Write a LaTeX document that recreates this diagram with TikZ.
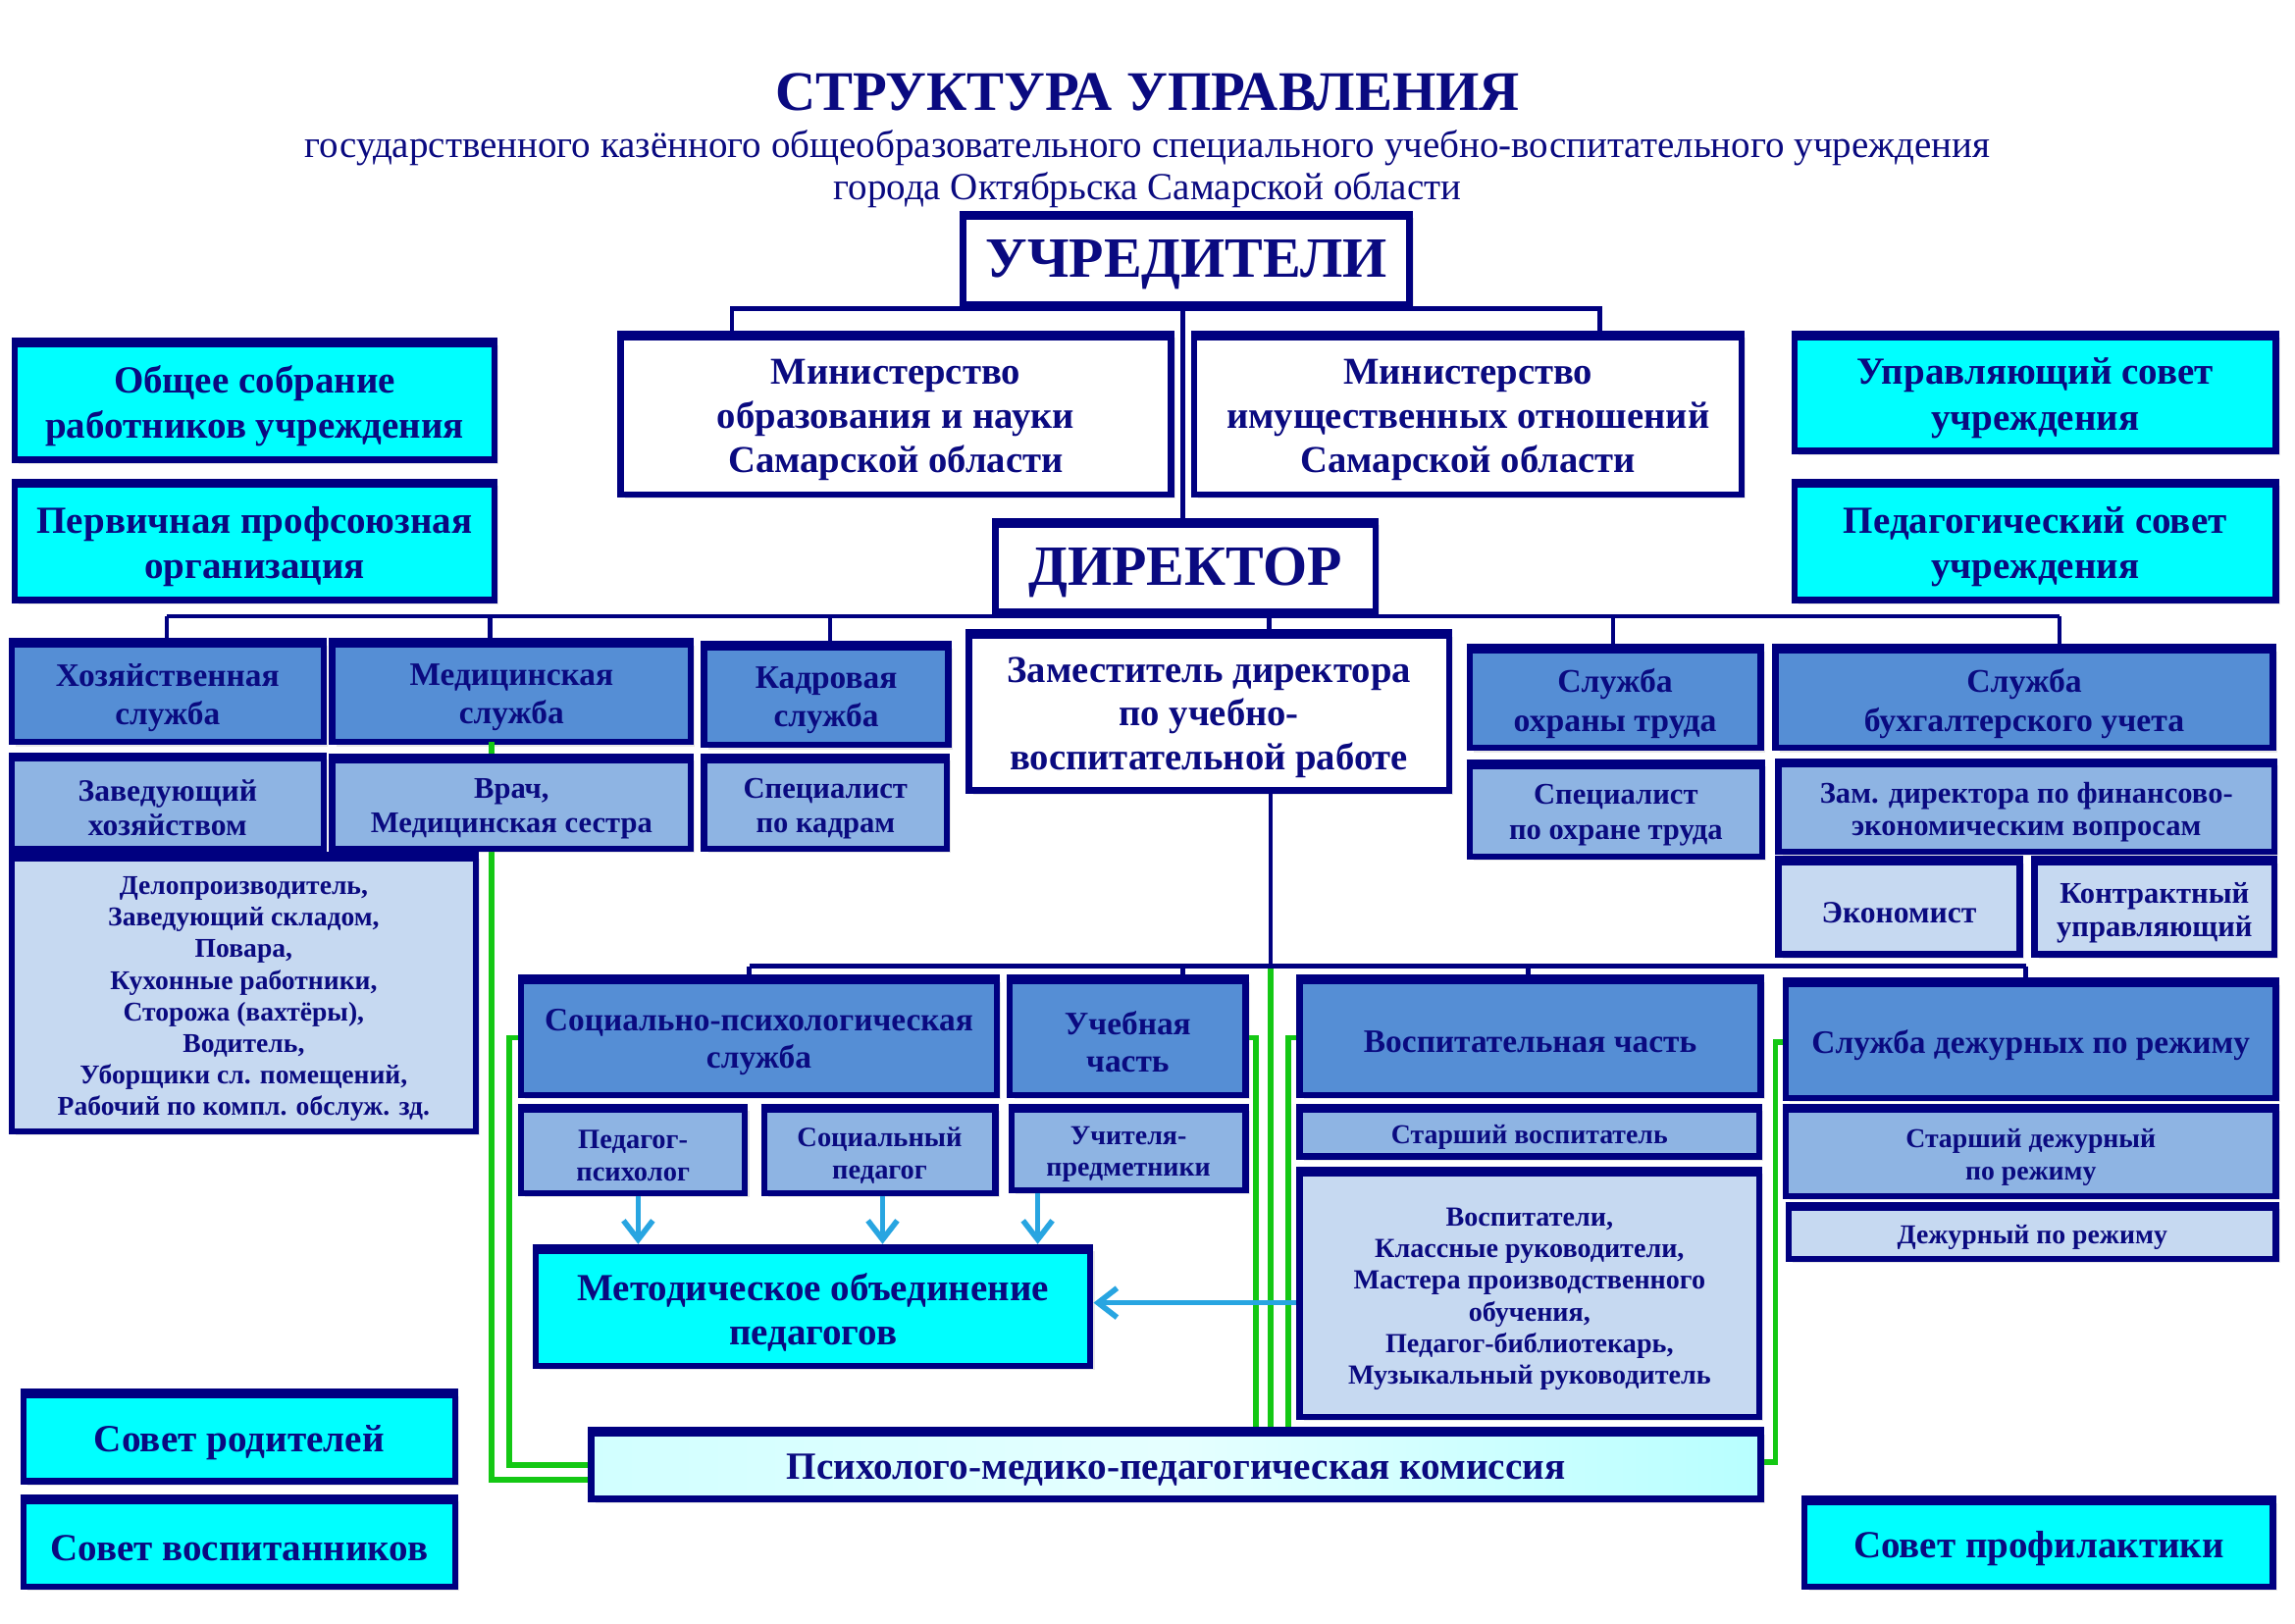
\documentclass[tikz,border=0pt]{standalone}
\usepackage{fontspec}
\setmainfont{Liberation Serif}
\usetikzlibrary{arrows.meta,shadows}
\definecolor{navyT}{RGB}{10,10,128}
\definecolor{navyB}{RGB}{0,0,128}
\definecolor{cyanF}{RGB}{0,255,255}
\definecolor{midB}{RGB}{85,142,213}
\definecolor{lightB}{RGB}{142,180,227}
\definecolor{paleB}{RGB}{198,217,241}
\definecolor{greenL}{RGB}{20,200,20}
\definecolor{arrowB}{RGB}{40,165,225}
\newcommand\fz[2]{\bfseries\fontsize{#1}{#2}\selectfont}
% \bx{style}{font}{x1}{y1}{x2}{y2}{name}{text}
\newcommand\bx[8]{%
  \node[#1, minimum width={(#5-#3)*0.14917mm}, minimum height={(#6-#4)*0.14917mm}] (#7) at ({(#3+#5)/2},{(#4+#6)/2}) {};
  \node[lbl, font=#2] (#7t) at ([yshift=-1.7pt]#7.center) {#8};}
\begin{document}
\begin{tikzpicture}[x=0.14917mm,y=-0.14917mm,
  box/.style={draw=navyB, line width=1.8pt, inner sep=0pt,
    drop shadow={opacity=0.18, shadow xshift=1.2pt, shadow yshift=-1.2pt},
    append after command={([yshift=-1.4pt]\tikzlastnode.north west) edge[draw=navyB, line width=2.8pt, -] ([yshift=-1.4pt]\tikzlastnode.north east)}},
  lbl/.style={inner sep=0pt, align=center, text=navyT},
  cy/.style={box, fill=cyanF},
  mb/.style={box, fill=midB},
  lb/.style={box, fill=lightB},
  pb/.style={box, fill=paleB},
  wb/.style={box, fill=white},
  conn/.style={draw=navyB, line width=1.3pt},
  grn/.style={draw=greenL, line width=1.6pt},
  arr/.style={draw=arrowB, line width=1.6pt, -{Straight Barb[length=5.5pt,width=8.5pt]}},
  ttl/.style={text=navyT, inner sep=0pt}]
\useasboundingbox (0,0) rectangle (1568,1109);
\fill[white] (0,0) rectangle (1568,1109);

% titles
\node[ttl, font=\fz{16.2}{18}] (title) at (784,63) {СТРУКТУРА УПРАВЛЕНИЯ};
\node[ttl, font=\fontsize{11.1}{13}\selectfont] (sub1) at (784,101) {государственного казённого общеобразовательного специального учебно-воспитательного учреждения};
\node[ttl, font=\fontsize{11.1}{13}\selectfont] (sub2) at (784,130) {города Октябрьска Самарской области};

% coordinates for connectors
\coordinate (t1) at (500,211);
\coordinate (t2) at (1093,211);
\coordinate (b1) at (114,421);
\coordinate (b2) at (335,421);
\coordinate (b3) at (567,421);
\coordinate (b4) at (867,421);
\coordinate (b5) at (1102,421);
\coordinate (b6) at (1407,421);
\coordinate (c0) at (868,660);
\coordinate (c1) at (512,660);
\coordinate (c2) at (808,660);
\coordinate (c3) at (1044,660);
\coordinate (c4) at (1384,660);

\coordinate (g1a) at (336,507);
\coordinate (g1b) at (336,1011);
\coordinate (g2a) at (348,709);
\coordinate (g2b) at (348,1001);
\coordinate (g3a) at (858,709);
\coordinate (g5a) at (880,709);
\coordinate (g6a) at (1213,712);
\coordinate (g6b) at (1213,999);

% boxes
\bx{wb}{\fz{16.5}{18}}{658}{146}{963}{208}{uch}{УЧРЕДИТЕЛИ}
\bx{wb}{\fz{11}{12.8}}{424}{228}{800}{338}{min1}{Министерство\\образования и науки\\Самарской области}
\bx{wb}{\fz{11}{12.8}}{816}{228}{1190}{338}{min2}{Министерство\\имущественных отношений\\Самарской области}
\bx{cy}{\fz{11.1}{13.2}}{10}{233}{338}{314}{obsh}{Общее собрание\\работников учреждения}
\bx{cy}{\fz{11.1}{13.2}}{10}{329}{338}{410}{perv}{Первичная профсоюзная\\организация}
\bx{cy}{\fz{11.1}{13.2}}{1226}{228}{1555}{308}{upr}{Управляющий совет\\учреждения}
\bx{cy}{\fz{11.1}{13.2}}{1226}{329}{1555}{410}{pedsov}{Педагогический совет\\учреждения}
\bx{wb}{\fz{16.5}{18}}{680}{356}{940}{418}{dir}{ДИРЕКТОР}

\draw[conn] (uch.south -| 808,0) -- (dir.north -| 808,0);
\draw[conn] (t1 |- min1.north) -- (t1) -- (t2) -- (t2 |- min2.north);

\bx{mb}{\fz{9.5}{11}}{8}{438}{221}{507}{hoz}{Хозяйственная\\служба}
\bx{mb}{\fz{9.5}{11}}{227}{438}{472}{507}{med}{Медицинская\\служба}
\bx{mb}{\fz{9.5}{11}}{481}{440}{648}{509}{kadr}{Кадровая\\служба}
\bx{wb}{\fz{11}{12.7}}{662}{432}{990}{540}{zam}{Заместитель директора\\по учебно-\\воспитательной работе}
\bx{mb}{\fz{9.6}{11.5}}{1004}{442}{1203}{511}{ohr}{Служба\\охраны труда}
\bx{mb}{\fz{9.6}{11.5}}{1213}{442}{1553}{511}{buh}{Служба\\бухгалтерского учета}

% navy connectors director level
\draw[conn] (b1) -- (b6);
\draw[conn] (b1) -- (b1 |- hoz.north);
\draw[conn] (b2) -- (b2 |- med.north);
\draw[conn] (b3) -- (b3 |- kadr.north);
\draw[conn] (b4) -- (b4 |- zam.north);
\draw[conn] (b5) -- (b5 |- ohr.north);
\draw[conn] (b6) -- (b6 |- buh.north);

% green lines drawn before lower boxes
\draw[grn] (g1a) -- (g1b) -- (g1b -| 404,0);
\draw[grn] (g2a -| 356,0) -- (g2a) -- (g2b) -- (g2b -| 404,0);
\draw[grn] (g3a -| 851,0) -- (g3a) -- (g3a |- 0,977);
\draw[grn] (c0) -- (c0 |- 0,977);
\draw[grn] (g5a -| 888,0) -- (g5a) -- (g5a |- 0,977);
\draw[grn] (g6a -| 1220,0) -- (g6a) -- (g6b) -- (g6b -| 1203,0);

\bx{lb}{\fz{9}{9.8}}{8}{516}{221}{580}{zavh}{Заведующий\\хозяйством}
\bx{lb}{\fz{8.7}{9.8}}{227}{517}{472}{580}{vrach}{Врач,\\Медицинская сестра}
\bx{lb}{\fz{8.7}{9.8}}{481}{517}{647}{580}{spk}{Специалист\\по кадрам}
\bx{lb}{\fz{8.7}{10.2}}{1004}{521}{1204}{585}{spo}{Специалист\\по охране труда}
\bx{lb}{\fz{8.7}{9.4}}{1215}{520}{1554}{582}{zfin}{Зам. директора по финансово-\\экономическим вопросам}
\bx{pb}{\fz{9}{9.8}}{1215}{587}{1380}{652}{ekon}{Экономист}
\bx{pb}{\fz{8.7}{9.8}}{1390}{587}{1554}{652}{kontr}{Контрактный\\управляющий}
\bx{pb}{\fz{7.85}{9.15}}{8}{584}{325}{773}{delo}{Делопроизводитель,\\Заведующий складом,\\Повара,\\Кухонные работники,\\Сторожа (вахтёры),\\Водитель,\\Уборщики сл. помещений,\\Рабочий по компл. обслуж. зд.}

% zam to lower bus
\draw[conn] (c0 |- zam.south) -- (c0);
\draw[conn] (c1) -- (c4);

\bx{mb}{\fz{9.5}{10.8}}{356}{668}{681}{748}{sps}{Социально-психологическая\\служба}
\bx{mb}{\fz{9.5}{10.8}}{690}{668}{851}{748}{ucheb}{Учебная\\часть}
\bx{mb}{\fz{9.5}{10.8}}{888}{668}{1203}{748}{vosp}{Воспитательная часть}
\bx{mb}{\fz{9.5}{10.8}}{1220}{670}{1555}{750}{duty}{Служба дежурных по режиму}

\draw[conn] (c1) -- (c1 |- sps.north);
\draw[conn] (c2) -- (c2 |- ucheb.north);
\draw[conn] (c3) -- (c3 |- vosp.north);
\draw[conn] (c4) -- (c4 |- duty.north);

\bx{lb}{\fz{8.1}{9.3}}{356}{756}{509}{815}{pp}{Педагог-\\психолог}
\bx{lb}{\fz{8.1}{9.3}}{522}{756}{680}{815}{sp}{Социальный\\педагог}
\bx{lb}{\fz{7.95}{9.3}}{691}{756}{851}{813}{up}{Учителя-\\предметники}
\bx{lb}{\fz{7.9}{9.3}}{888}{756}{1202}{790}{stv}{Старший воспитатель}
\bx{pb}{\fz{8}{9.2}}{888}{799}{1202}{968}{vlist}{Воспитатели,\\Классные руководители,\\Мастера производственного\\обучения,\\Педагог-библиотекарь,\\Музыкальный руководитель}
\bx{lb}{\fz{7.9}{9.3}}{1220}{756}{1555}{817}{std}{Старший дежурный\\по режиму}
\bx{pb}{\fz{7.9}{9.3}}{1222}{823}{1555}{860}{dpr}{Дежурный по режиму}

\bx{cy}{\fz{11.1}{12.7}}{366}{852}{745}{933}{mo}{Методическое объединение\\педагогов}

\draw[arr] (pp.south -| 436,0) -- (mo.north -| 436,0);
\draw[arr] (sp.south -| 603,0) -- (mo.north -| 603,0);
\draw[arr] (up.south -| 709,0) -- (mo.north -| 709,0);
\draw[arr] (vlist.west |- 0,890) -- (mo.east |- 0,890);

\bx{box, left color=cyanF!18, right color=cyanF!28, middle color=cyanF!10}{\fz{11.15}{12.7}}{404}{977}{1203}{1024}{pmpk}{Психолого-медико-педагогическая комиссия}

\bx{cy}{\fz{11.15}{13}}{16}{951}{311}{1012}{srod}{Совет родителей}
\bx{cy}{\fz{11.1}{13}}{16}{1023}{311}{1084}{svos}{Совет воспитанников}
\bx{cy}{\fz{11.1}{13}}{1233}{1024}{1553}{1084}{sprof}{Совет профилактики}
\end{tikzpicture}
\end{document}
